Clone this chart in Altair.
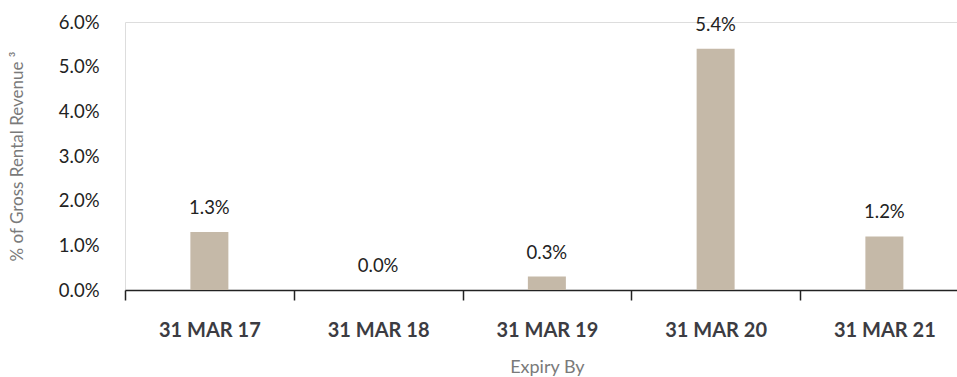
import altair as alt
import pandas as pd

# Lease expiry profile
expiry = ["31 MAR 17", "31 MAR 18", "31 MAR 19", "31 MAR 20", "31 MAR 21"]
share_pct = [1.3, 0.0, 0.3, 5.4, 1.2]

df = pd.DataFrame({"expiry": expiry, "share": share_pct})

FONT = "Lato"
PLOT_W = 832
PLOT_H = 268

base = alt.Chart(df).encode(
    x=alt.X(
        "expiry:N",
        sort=expiry,
        scale=alt.Scale(paddingInner=0, paddingOuter=0, range=[0, 843.75]),
        axis=alt.Axis(
            title="Expiry By",
            titleFont=FONT,
            titleFontSize=18,
            titleFontWeight="normal",
            titleColor="#7a7a7a",
            titleY=82,
            titleBaseline="alphabetic",
            labelFont=FONT,
            labelFontSize=20,
            labelFontWeight="bold",
            labelColor="#3c3c42",
            labelAngle=0,
            labelPadding=20,
            labelBaseline="top",
            tickBand="extent",
            tickSize=10,
            tickColor="#222222",
            tickWidth=1.5,
            domainColor="#222222",
            domainWidth=1.5,
            grid=False,
        ),
    ),
)

bars = base.mark_bar(size=38, color="#c5b9a8").encode(
    y=alt.Y(
        "share:Q",
        scale=alt.Scale(domain=[0, 6], nice=False),
        axis=alt.Axis(
            title="% of Gross Rental Revenue ³",
            titleFont=FONT,
            titleFontSize=17,
            titleFontWeight="normal",
            titleColor="#7a7a7a",
            titleX=-108,
            titleY=PLOT_H / 2,
            titleAngle=270,
            titleAlign="center",
            titleBaseline="middle",
            values=[0, 1, 2, 3, 4, 5, 6],
            labelExpr="format(datum.value, '.1f') + '%'",
            labelFont=FONT,
            labelFontSize=18.5,
            labelColor="#222222",
            labelPadding=26,
            labelBaseline="middle",
            ticks=False,
            tickSize=0,
            domain=False,
            grid=False,
        ),
    )
)

labels = base.transform_calculate(
    label="format(datum.share, '.1f') + '%'"
).mark_text(
    font=FONT, fontSize=18.5, color="#222222", baseline="alphabetic", dy=-18
).encode(
    y=alt.Y("share:Q"),
    text="label:N",
)

chart = (
    alt.layer(bars, labels)
    .properties(
        width=PLOT_W,
        height=PLOT_H,
        autosize=alt.AutoSizeParams(type="none"),
        padding={"left": 125, "top": 22, "right": 0, "bottom": 87},
    )
    .configure_view(stroke=None)
    .configure(background="white")
)

chart.save("out.html", embed_options={"renderer": "svg", "actions": False})
